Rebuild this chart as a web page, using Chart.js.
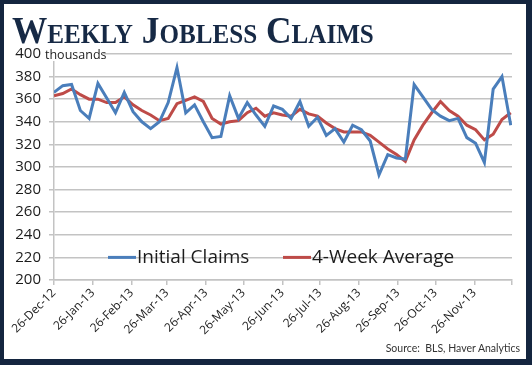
<!DOCTYPE html>
<html>
<head>
<meta charset="utf-8">
<script src="https://cdn.jsdelivr.net/npm/chart.js@4.4.0/dist/chart.umd.min.js"></script>
<style>
  html, body { margin: 0; padding: 0; background: #fff; }
  #wrap { position: relative; width: 532px; height: 365px; overflow: hidden; background: #fff; }
  #frame { position: absolute; left: 0; top: 0; width: 532px; height: 365px; box-sizing: border-box;
           border: solid #14253f; border-width: 4px 6px 6px 4px; pointer-events: none; }
  #title { position: absolute; left: 12px; top: 11px; font-family: "Liberation Serif", "DejaVu Serif", serif;
           font-weight: bold; font-variant: small-caps; font-size: 38px; line-height: 38px; color: #162945;
           white-space: nowrap; transform: scaleX(0.93); transform-origin: left top; }
  #source { position: absolute; right: 12px; top: 342px; font-family: Lato, "Liberation Sans", sans-serif;
            font-size: 10.5px; color: #333; white-space: pre; }
  canvas { position: absolute; left: 0; top: 0; }
</style>
</head>
<body>
<div id="wrap">
  <canvas id="canvas" width="532" height="365"></canvas>
  <div id="title">Weekly Jobless Claims</div>
  <div id="source">Source:  BLS, Haver Analytics</div>
  <div id="frame"></div>
</div>
<script>
// weekly values, thousands (one point per week starting 26-Dec-12)
const initialClaims = [366, 372, 373, 350, 343, 374, 361, 348, 366, 349, 340, 334, 340,
  357, 388, 348, 355, 340, 326, 327, 363, 343, 357, 346, 336, 354, 351, 343, 358, 336,
  344, 328, 334, 322, 337, 333, 323, 293, 311, 308, 307, 373, 362, 351, 345, 341, 343,
  326, 321, 304, 369, 380, 337];
const fourWeekAverage = [363, 365, 369, 364, 360, 360, 357, 357, 362, 355, 350, 346, 341,
  343, 356, 359, 362, 358, 343, 338, 340, 341, 348, 352, 345, 348, 346, 345, 351, 347,
  345, 339, 334, 331, 331, 331, 328, 322, 316, 311, 305, 324, 337, 348, 358, 350, 345,
  337, 333, 324, 329, 342, 348];
const seriesNames = ['Initial Claims', '4-Week Average'];
const seriesColors = ['#4a7ebb', '#be4b48'];

// x axis: days since 26-Dec-12
const tickDays = [0, 31, 62, 90, 121, 151, 182, 212, 243, 274, 304, 335, 365];
const tickLabels = ['26-Dec-12', '26-Jan-13', '26-Feb-13', '26-Mar-13', '26-Apr-13', '26-May-13',
  '26-Jun-13', '26-Jul-13', '26-Aug-13', '26-Sep-13', '26-Oct-13', '26-Nov-13', ''];
const daysPerWeek = 7;

function toPoints(values) {
  return values.map(function (v, i) { return { x: i * daysPerWeek, y: v }; });
}

const gridColor = '#c3c3c3';
const textColor = '#1c1c1c';
const tickFont = '"Open Sans", "DejaVu Sans", sans-serif';

// "thousands" next to the top tick label
const unitsPlugin = {
  id: 'units',
  afterDraw(chart) {
    const ctx = chart.ctx;
    const y = chart.scales.y.getPixelForValue(400);
    ctx.save();
    ctx.fillStyle = '#fff';
    ctx.fillRect(43, y - 9, 60, 16);
    ctx.fillStyle = textColor;
    ctx.font = '12.5px ' + tickFont;
    ctx.textBaseline = 'alphabetic';
    ctx.fillText('thousands', 45, y + 5);
    ctx.restore();
  }
};

// legend drawn inside the plot, on the 220 gridline
const legendPlugin = {
  id: 'innerLegend',
  afterDatasetsDraw(chart) {
    const ctx = chart.ctx;
    const y = chart.scales.y.getPixelForValue(220);
    const starts = [108, 283];
    ctx.save();
    ctx.font = '19px ' + tickFont;
    ctx.textBaseline = 'middle';
    chart.data.datasets.forEach(function (ds, i) {
      const x = starts[i];
      ctx.strokeStyle = ds.borderColor;
      ctx.lineWidth = 3;
      ctx.beginPath();
      ctx.moveTo(x, y);
      ctx.lineTo(x + 28, y);
      ctx.stroke();
      ctx.fillStyle = textColor;
      ctx.fillText(ds.label, x + 29, y);
    });
    ctx.restore();
  }
};

const chart = new Chart(document.getElementById('canvas'), {
  type: 'line',
  data: {
    datasets: [
      {
        label: seriesNames[0],
        data: toPoints(initialClaims),
        borderColor: seriesColors[0],
        backgroundColor: seriesColors[0],
        borderWidth: 3,
        pointRadius: 0,
        tension: 0,
      },
      {
        label: seriesNames[1],
        data: toPoints(fourWeekAverage),
        borderColor: seriesColors[1],
        backgroundColor: seriesColors[1],
        borderWidth: 3,
        pointRadius: 0,
        tension: 0,
      },
    ],
  },
  options: {
    responsive: false,
    animation: false,
    layout: { padding: { top: 54, right: 20, left: 0, bottom: 0 } },
    plugins: { legend: { display: false }, tooltip: { enabled: false } },
    scales: {
      x: {
        type: 'linear',
        min: 0,
        max: 365,
        afterBuildTicks: function (scale) {
          scale.ticks = tickDays.map(function (d) { return { value: d }; });
        },
        afterFit: function (scale) { scale.height = 85; },
        ticks: {
          autoSkip: false,
          minRotation: 45,
          maxRotation: 45,
          padding: 1,
          color: textColor,
          font: { family: tickFont, size: 12 },
          callback: function (v) { return tickLabels[tickDays.indexOf(v)]; },
        },
        grid: { drawOnChartArea: false, drawTicks: true, tickLength: 5, color: gridColor, lineWidth: 1.5 },
        border: { color: gridColor, width: 1.5 },
      },
      y: {
        min: 200,
        max: 400,
        afterFit: function (scale) { scale.width = 54; },
        ticks: {
          stepSize: 20,
          padding: 8,
          color: textColor,
          font: { family: tickFont, size: 15 },
        },
        grid: { color: gridColor, lineWidth: 1.5, tickLength: 5 },
        border: { color: gridColor, width: 1.5 },
      },
    },
  },
  plugins: [unitsPlugin, legendPlugin],
});
</script>
</body>
</html>
